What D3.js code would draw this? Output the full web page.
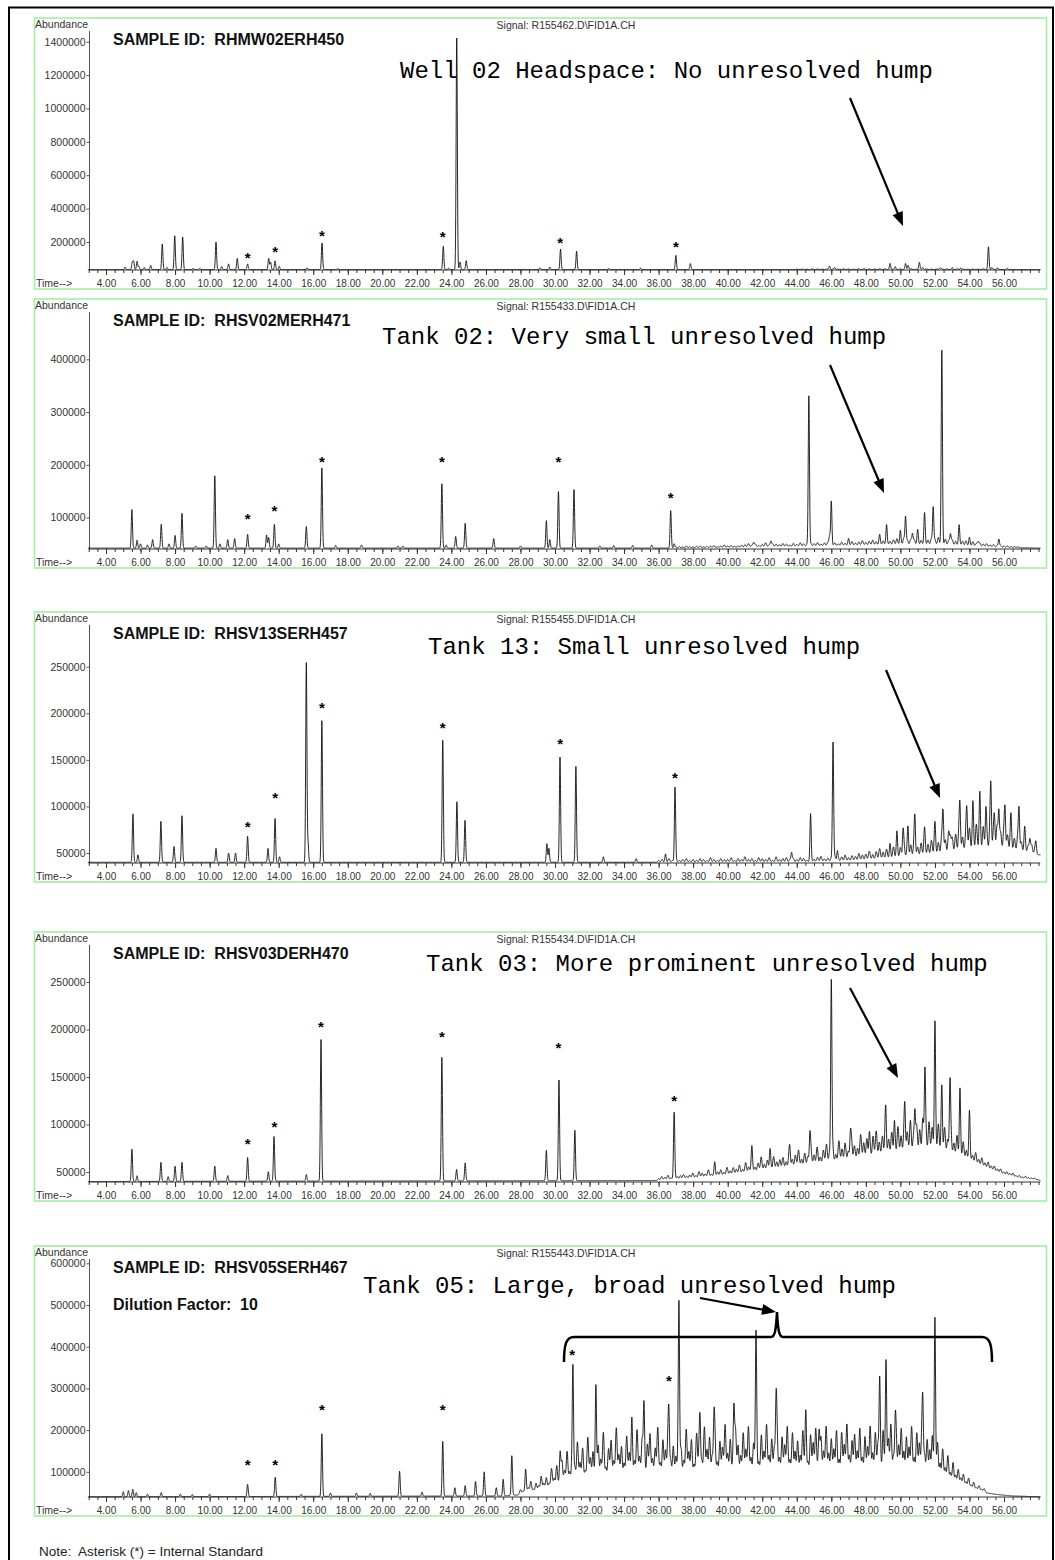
<!DOCTYPE html>
<html>
<head>
<meta charset="utf-8">
<script src="https://cdn.jsdelivr.net/npm/d3@7"></script>
<style>
    body { margin: 0; background: #fff; }
    text { font-family: "Liberation Sans", Arial, sans-serif; }
</style>
</head>
<body>
<div id="svg"></div>
<script>
// ---- data ----
const sampleIds = ["RHMW02ERH450", "RHSV02MERH471", "RHSV13SERH457", "RHSV03DERH470", "RHSV05SERH467"];
const signalFiles = ["R155462.D\\FID1A.CH", "R155433.D\\FID1A.CH", "R155455.D\\FID1A.CH", "R155434.D\\FID1A.CH", "R155443.D\\FID1A.CH"];
const notes = [
    "Well 02 Headspace: No unresolved hump",
    "Tank 02: Very small unresolved hump",
    "Tank 13: Small unresolved hump",
    "Tank 03: More prominent unresolved hump",
    "Tank 05: Large, broad unresolved hump"
];
const timeTicks = [4, 6, 8, 10, 12, 14, 16, 18, 20, 22, 24, 26, 28, 30, 32, 34, 36, 38, 40, 42, 44, 46, 48, 50, 52, 54, 56];

const yTicks1 = [200000, 400000, 600000, 800000, 1000000, 1200000, 1400000];
const yTicks2 = [100000, 200000, 300000, 400000];
const yTicks3 = [50000, 100000, 150000, 200000, 250000];
const yTicks4 = [50000, 100000, 150000, 200000, 250000];
const yTicks5 = [100000, 200000, 300000, 400000, 500000, 600000];

// baseline level [time, abundance]
const base1 = [[3, 35000], [58.1, 35000]];
const base2 = [[3, 42000], [38, 42000], [42, 44000], [46, 46000], [50, 48000], [53, 47000], [56, 43000], [58.1, 42000]];
const base3 = [[3, 40000], [44, 40000], [47, 41000], [50, 44000], [52, 47000], [54, 51000], [56, 52000], [58.1, 48000]];
const base4 = [[3, 40000], [36, 41000], [38, 43000], [40, 46000], [42, 50000], [44, 54000], [46, 58000], [48, 62000],
    [50, 66000], [52, 67000], [53, 65000], [54, 60000], [55, 53000], [56, 47000], [57, 43000], [58.1, 41000]];
const base5 = [[3, 40000], [27, 42000], [29, 48000], [30, 54000], [31, 60000], [33, 64000], [40, 67000], [48, 68000],
    [51, 67000], [52.5, 64000], [53.5, 60000], [54.5, 53000], [55.5, 46000], [56.5, 42000], [58.1, 40000]];

// resolved peaks [retention time, height above baseline]
const peaks1 = [
    [5.10, 14000], [5.52, 43000], [5.60, 50000], [5.80, 50000], [5.91, 20000], [6.22, 12000], [6.59, 25000],
    [7.26, 153000], [7.53, 12000], [7.98, 202000], [8.44, 195000], [9.04, 8000], [9.44, 8000],
    [10.37, 165000], [10.70, 18000], [11.10, 34000], [11.60, 67000], [12.20, 34000],
    [13.42, 67000], [13.53, 45000], [13.79, 52000], [14.03, 20000], [15.64, 10000], [16.51, 159000], [17.43, 6000],
    [23.53, 139000], [23.84, 8000], [24.31, 1387000], [24.50, 45000], [24.86, 53000],
    [29.13, 10000], [29.70, 15000], [30.32, 122000], [31.25, 110000], [33.10, 6000], [34.96, 8000],
    [37.00, 85000], [37.84, 36000], [45.90, 20000], [46.20, 12000], [49.40, 34000], [49.70, 15000],
    [50.30, 34000], [50.45, 25000], [51.10, 43000], [51.30, 12000], [52.30, 10000], [53.00, 10000], [53.50, 10000],
    [55.10, 133000], [55.30, 12000], [55.60, 10000], [56.20, 8000]
];
const peaks2 = [
    [5.50, 73000], [5.80, 15000], [6.00, 8000], [6.40, 6000], [6.70, 16000], [7.20, 45000], [7.65, 8000], [8.00, 24000], [8.40, 66000],
    [9.20, 4000], [9.80, 4000], [10.30, 137000], [10.60, 8000], [11.05, 16000], [11.45, 18000], [12.20, 26000],
    [13.30, 25000], [13.42, 20000], [13.75, 45000], [14.00, 8000], [15.60, 41000], [16.50, 152000], [17.30, 5000],
    [18.80, 6000], [20.90, 4000], [21.20, 4000], [23.45, 122000], [23.70, 6000], [24.25, 22000], [24.80, 47000], [26.45, 18000],
    [28.00, 4000], [29.50, 52000], [29.70, 16000], [30.20, 107000], [31.10, 111000], [32.60, 4000], [33.40, 5000],
    [34.50, 5000], [35.60, 6000], [36.70, 71000], [36.90, 8000],
    [41.50, 8000], [42.50, 10000], [44.70, 284000], [45.90, 18000], [46.00, 80000], [47.00, 8000],
    [48.80, 12000], [49.20, 28000], [50.00, 20000], [50.30, 52000], [50.70, 20000], [51.00, 18000], [51.40, 48000],
    [51.90, 70000], [52.40, 361000], [52.90, 20000], [53.40, 28000], [54.00, 10000], [54.50, 8000], [55.70, 15000]
];
const peaks3 = [
    [5.56, 52000], [5.85, 8000], [7.18, 44000], [7.94, 17000], [8.40, 50000], [10.37, 15000], [11.10, 10000], [11.50, 10000],
    [12.20, 28000], [13.38, 15000], [13.79, 47000], [14.05, 6000], [15.60, 214000], [15.70, 20000], [16.50, 152000],
    [23.50, 131000], [24.32, 65000], [24.79, 45000], [29.53, 20000], [29.65, 15000], [30.29, 113000], [31.21, 103000],
    [32.80, 6000], [34.70, 4000], [36.40, 7000], [36.95, 79000], [43.70, 10000], [44.80, 48000], [46.10, 127000], [46.35, 10000],
    [49.40, 10000], [49.80, 20000], [50.15, 22000], [50.44, 27000], [50.84, 33000], [51.40, 12000], [52.00, 18000], [52.47, 40000],
    [52.90, 15000], [53.45, 38000], [53.85, 34000], [54.20, 35000], [54.60, 42000], [54.95, 36000], [55.24, 51000], [55.45, 25000],
    [55.70, 39000], [56.06, 36000], [56.40, 20000], [56.87, 42000], [57.20, 15000], [57.50, 14000], [57.85, 10000]
];
const peaks4 = [
    [5.50, 34000], [5.80, 6000], [7.18, 20000], [7.60, 5000], [8.00, 16000], [8.40, 20000], [10.30, 16000], [11.05, 6000],
    [12.20, 25000], [13.40, 10000], [13.73, 47000], [15.60, 7000], [16.45, 149000], [23.45, 130000], [24.30, 12000], [24.80, 19000],
    [29.50, 32000], [30.23, 106000], [31.15, 53000], [36.90, 65000],
    [39.25, 10000], [41.40, 15000], [42.45, 18000], [43.60, 12000], [44.76, 28000], [46.00, 188000], [47.10, 20000],
    [48.20, 20000], [49.15, 22000], [49.65, 25000], [50.26, 35000], [50.84, 40000], [51.42, 80000], [52.00, 117000],
    [52.40, 55000], [52.87, 66000], [53.45, 62000], [54.00, 40000]
];
const peaks5 = [
    [5.00, 12000], [5.30, 15000], [5.55, 18000], [5.75, 10000], [6.40, 6000], [7.20, 10000], [8.30, 6000], [9.00, 5000], [10.00, 6000],
    [12.20, 29000], [13.80, 46000], [15.30, 5000], [16.50, 150000], [17.00, 8000], [18.50, 8000], [19.30, 7000], [21.00, 60000],
    [22.30, 10000], [23.50, 131000], [24.20, 20000], [24.80, 25000], [25.40, 35000], [25.90, 58000], [26.60, 20000], [27.00, 40000],
    [27.50, 95000], [28.30, 40000],
    [30.30, 70000], [31.04, 235000], [32.37, 192000], [34.45, 60000], [35.15, 160000], [36.60, 100000], [37.18, 340000],
    [38.40, 106000], [39.20, 90000], [40.36, 142000], [41.64, 243000], [42.80, 132000], [44.53, 100000], [45.30, 80000],
    [48.80, 212000], [49.17, 219000], [49.70, 90000], [51.30, 125000], [52.00, 333000]
];

// unresolved "grass": start time, spacing (min), heights in thousands
const grass1 = { start: 44.0, step: 0.3, k: [2, 3, 2, 4, 3, 2, 5, 3, 2, 4, 3, 2, 4, 6, 3, 2, 5, 4, 3, 2, 4, 3, 5, 2, 3, 4, 2, 3, 5, 3, 2, 4, 3, 2, 3, 2, 4, 3, 2, 2] };
const grass2 = { start: 37.0, step: 0.2, k: [
    2, 3, 2, 4, 3, 2, 3, 4, 2, 3, 3, 4, 2, 3, 5, 3, 4, 2, 3, 4, 5, 7, 4, 6, 3, 5, 8, 4, 6, 5,
    4, 6, 5, 3, 6, 4, 7, 5, 4, 6, 5, 7, 4, 6, 8, 5, 6, 4, 7, 5, 6, 8, 5, 7, 9, 6, 8, 10, 7, 9,
    8, 11, 7, 10, 12, 8, 13, 9, 11, 10, 12, 9, 14, 10, 13, 11, 15, 9, 12, 10, 11, 8, 12, 9, 10, 7, 9, 6, 7, 5,
    6, 4, 5, 3, 4, 3, 3, 2, 2, 2] };
const grass3 = { start: 36.0, step: 0.2, k: [
    2, 3, 2, 4, 2, 3, 2, 3, 4, 2, 3, 2, 4, 3, 2, 5, 3, 2, 4, 3, 3, 5, 2, 4, 3, 6, 3, 4, 2, 5,
    4, 3, 5, 2, 6, 3, 4, 5, 3, 4, 3, 5, 4, 2, 4, 3, 5, 6, 3, 4, 4, 6, 3, 5, 7, 4, 6, 5, 8, 6,
    7, 10, 6, 9, 12, 8, 11, 7, 13, 10, 12, 16, 10, 14, 18, 11, 15, 20, 13, 17, 19, 14, 22, 16, 25, 18, 21, 28, 17, 24,
    26, 20, 30, 23, 27, 19, 32, 24, 28, 21, 25, 18, 22, 15, 19, 12, 14, 9, 10, 7] };
const grass4 = { start: 36.0, step: 0.18, k: [
    2, 4, 3, 5, 2, 6, 3, 4, 5, 3, 4, 6, 3, 7, 5, 4, 8, 3, 6, 5, 7, 4, 9, 5, 8, 6, 10, 5, 12, 7,
    14, 6, 10, 16, 8, 12, 7, 15, 9, 11, 13, 8, 17, 10, 14, 19, 9, 15, 11, 18, 12, 20, 9, 16, 22, 13, 18, 10, 24, 15,
    21, 12, 26, 17, 14, 28, 19, 23, 13, 25, 30, 18, 24, 35, 20, 27, 16, 32, 22, 29, 26, 38, 21, 33, 28, 40, 24, 36, 30, 27,
    34, 22, 31, 19, 28, 16, 25, 14, 20, 12, 15, 9, 13, 7, 10, 6, 8, 5, 6, 4, 5, 3, 4, 3, 4, 2, 3, 2, 3, 2, 2, 2, 1] };
const grass5 = { start: 28.0, step: 0.15, k: [
    12, 8, 20, 15, 30, 10, 25, 18, 40, 22, 35, 20, 55, 30, 60, 25, 70, 45, 90, 40,
    80, 50, 110, 60, 95, 40, 120, 70, 85, 55, 100, 65, 130, 45, 90, 110, 60, 140, 75, 95,
    55, 120, 80, 105, 60, 135, 70, 115, 50, 100, 125, 65, 90, 140, 55, 110, 85, 130, 60, 95,
    70, 120, 90, 60, 135, 80, 110, 50, 125, 95, 60, 140, 85, 115, 70, 130, 55, 105, 90, 145,
    75, 110, 60, 135, 95, 70, 125, 85, 140, 65, 100, 130, 55, 120, 80, 145, 70, 110, 90, 135,
    65, 115, 95, 140, 60, 125, 80, 105, 70, 130, 90, 55, 120, 100, 135, 65, 115, 80, 140, 75,
    110, 85, 130, 60, 125, 95, 145, 70, 105, 120, 80, 135, 65, 115, 90, 140, 75, 125, 100, 60,
    130, 85, 110, 145, 70, 120, 95, 135, 80, 115, 90, 140, 65, 125, 100, 135, 75, 110, 85, 120,
    70, 105, 55, 90, 45, 75, 35, 60, 30, 45, 25, 35, 18, 28, 12, 20, 8, 14, 6, 9] };

// internal standard markers [time, abundance]
const stars1 = [[12.2, 122000], [13.8, 158000], [16.5, 254000], [23.5, 248000], [30.3, 212000], [37.0, 188000]];
const stars2 = [[12.2, 103000], [13.75, 118000], [16.5, 211000], [23.45, 211000], [30.2, 211000], [36.7, 143000]];
const stars3 = [[12.2, 81000], [13.8, 112000], [16.5, 209000], [23.5, 187000], [30.3, 170000], [36.95, 134000]];
const stars4 = [[12.2, 82600], [13.75, 100500], [16.45, 206000], [23.45, 195000], [30.2, 184000], [36.9, 128000]];
const stars5 = [[12.2, 123500], [13.8, 123500], [16.5, 255000], [23.5, 255000], [31.0, 387000], [36.6, 325000]];

// ---- layout ----
const width = 1055, height = 1560;
const SIG = 0.035, GRASS_SIG = 0.05;
const MONO = "'Liberation Mono', 'Courier New', monospace";

const panels = [
    { top: 18, bottom: 289, ticks: yTicks1, y0: [200000, 242], y1: [1400000, 41.7], base: base1, peaks: peaks1, grass: grass1, stars: stars1,
      noteAt: [400, 78], arrow: [850, 98, 903, 226] },
    { top: 299, bottom: 568, ticks: yTicks2, y0: [100000, 517.5], y1: [400000, 359.3], base: base2, peaks: peaks2, grass: grass2, stars: stars2,
      noteAt: [382, 344], arrow: [830, 365, 884, 493] },
    { top: 612, bottom: 882, ticks: yTicks3, y0: [50000, 853], y1: [250000, 666.7], base: base3, peaks: peaks3, grass: grass3, stars: stars3,
      noteAt: [428, 654], arrow: [886, 670, 940, 798] },
    { top: 932, bottom: 1201, ticks: yTicks4, y0: [50000, 1172], y1: [250000, 982], base: base4, peaks: peaks4, grass: grass4, stars: stars4,
      noteAt: [426, 971], arrow: [850, 988, 898, 1078] },
    { top: 1246, bottom: 1516, ticks: yTicks5, y0: [100000, 1471.8], y1: [600000, 1263.3], base: base5, peaks: peaks5, grass: grass5, stars: stars5,
      noteAt: [363, 1293], arrow: [700, 1298, 776, 1312] }
];

const xScale = d3.scaleLinear().domain([4, 56]).range([106, 1004]);

const svg = d3.select("#svg")
    .append("svg")
    .attr("width", width)
    .attr("height", height);

svg.append("rect")
    .attr("x", 9).attr("y", 7.5)
    .attr("width", 1044).attr("height", 1600)
    .attr("fill", "none").attr("stroke", "#000").attr("stroke-width", 2);

function trace(p) {
    const baseScale = d3.scaleLinear()
        .domain(p.base.map(d => d[0]))
        .range(p.base.map(d => d[1]))
        .clamp(true);
    const all = p.peaks.map(d => [d[0], d[1], SIG])
        .concat(p.grass.k.map((h, i) => [p.grass.start + i * p.grass.step, h * 1000, GRASS_SIG]));
    return d3.range(2.95, 58.12, 0.01).map(t => {
        let v = baseScale(t);
        for (const [tp, h, s] of all) {
            const d = t - tp;
            if (d > -0.3 && d < 0.3) v += h * Math.exp(-d * d / (2 * s * s));
        }
        return [t, v];
    });
}

function arrow(g, x1, y1, x2, y2) {
    const a = Math.atan2(y2 - y1, x2 - x1), L = 14, W = 5.5;
    const c = Math.cos(a), s = Math.sin(a);
    g.append("line")
        .attr("x1", x1).attr("y1", y1)
        .attr("x2", x2 - L * 0.7 * c).attr("y2", y2 - L * 0.7 * s)
        .attr("stroke", "#000").attr("stroke-width", 2.2);
    g.append("polygon")
        .attr("points", [[x2, y2], [x2 - L * c + W * s, y2 - L * s - W * c], [x2 - L * c - W * s, y2 - L * s + W * c]].join(" "))
        .attr("fill", "#000");
}

panels.forEach((p, i) => {
    const g = svg.append("g");
    const axisY = p.bottom - 19;
    const axisTop = p.top + 13;

    const yScale = d3.scaleLinear().domain([p.y0[0], p.y1[0]]).range([p.y0[1], p.y1[1]]);

    g.append("rect")
        .attr("x", 34.5).attr("y", p.top)
        .attr("width", 1012).attr("height", p.bottom - p.top)
        .attr("fill", "none").attr("stroke", "#a4f0a0").attr("stroke-width", 1.6);

    g.append("text").attr("x", 35).attr("y", p.top + 10)
        .attr("font-size", 10.5).attr("fill", "#333").text("Abundance");
    g.append("text").attr("x", 566).attr("y", p.top + 11)
        .attr("font-size", 10.5).attr("fill", "#333").attr("text-anchor", "middle")
        .text("Signal: " + signalFiles[i]);
    g.append("text").attr("x", 36).attr("y", p.bottom - 2)
        .attr("font-size", 10.5).attr("fill", "#333").text("Time-->");

    // y axis
    g.append("line").attr("x1", 89.5).attr("x2", 89.5).attr("y1", axisTop).attr("y2", axisY)
        .attr("stroke", "#555").attr("stroke-width", 1);
    g.append("g")
        .attr("transform", "translate(89.5,0)")
        .call(d3.axisLeft(yScale).tickValues(p.ticks).tickFormat(d3.format("d")).tickSize(3).tickPadding(1))
        .call(a => a.select(".domain").remove())
        .call(a => a.selectAll("line").attr("stroke", "#555"))
        .call(a => a.selectAll("text").attr("font-size", 10.5).attr("fill", "#333"));

    // x axis
    g.append("line").attr("x1", xScale(3)).attr("x2", xScale(58.1)).attr("y1", axisY).attr("y2", axisY)
        .attr("stroke", "#333").attr("stroke-width", 1);
    g.append("g")
        .attr("transform", `translate(0,${axisY})`)
        .call(d3.axisBottom(xScale).tickValues(d3.range(3, 58.01, 0.5)).tickFormat("").tickSize(3))
        .call(a => a.select(".domain").remove())
        .call(a => a.selectAll("line").attr("stroke", "#333"));
    g.append("g")
        .attr("transform", `translate(0,${axisY})`)
        .call(d3.axisBottom(xScale).tickValues(timeTicks).tickFormat(d3.format(".2f")).tickSize(5).tickPadding(5))
        .call(a => a.select(".domain").remove())
        .call(a => a.selectAll("line").attr("stroke", "#333"))
        .call(a => a.selectAll("text").attr("font-size", 10).attr("fill", "#333"));

    // trace
    const line = d3.line()
        .x(d => xScale(d[0]))
        .y(d => yScale(d[1]));
    g.append("path")
        .datum(trace(p))
        .attr("fill", "none")
        .attr("stroke", "#111")
        .attr("stroke-width", 0.9)
        .attr("stroke-linejoin", "round")
        .attr("d", line);

    // internal standard asterisks
    g.selectAll(".star")
        .data(p.stars)
        .join("text")
        .attr("x", d => xScale(d[0]))
        .attr("y", d => yScale(d[1]) + 8)
        .attr("text-anchor", "middle")
        .attr("font-size", 15)
        .attr("font-weight", "bold")
        .attr("fill", "#000")
        .text("*");

    g.append("text").attr("x", 113).attr("y", p.top + 27)
        .attr("font-size", 16).attr("font-weight", "bold").attr("fill", "#111")
        .style("white-space", "pre")
        .text("SAMPLE ID:  " + sampleIds[i]);

    g.append("text").attr("x", p.noteAt[0]).attr("y", p.noteAt[1])
        .style("font-family", MONO)
        .style("white-space", "pre")
        .attr("font-size", 24).attr("fill", "#000")
        .text(notes[i]);

    arrow(g, ...p.arrow);
});

// dilution note and brace in the last panel
svg.append("text").attr("x", 113).attr("y", 1310)
    .attr("font-size", 16).attr("font-weight", "bold").attr("fill", "#111")
    .style("white-space", "pre")
    .text("Dilution Factor:  10");

svg.append("path")
    .attr("d", "M564,1362 C564,1345 566,1337 574,1337 L771,1337 C775,1337 776,1330 777,1312 C778,1330 779,1337 783,1337 L982,1337 C990,1337 992,1345 992,1362")
    .attr("fill", "none").attr("stroke", "#000").attr("stroke-width", 2.5);

svg.append("text").attr("x", 39).attr("y", 1556)
    .attr("font-size", 13.5).attr("fill", "#222")
    .style("white-space", "pre")
    .text("Note:  Asterisk (*) = Internal Standard");
</script>
</body>
</html>
